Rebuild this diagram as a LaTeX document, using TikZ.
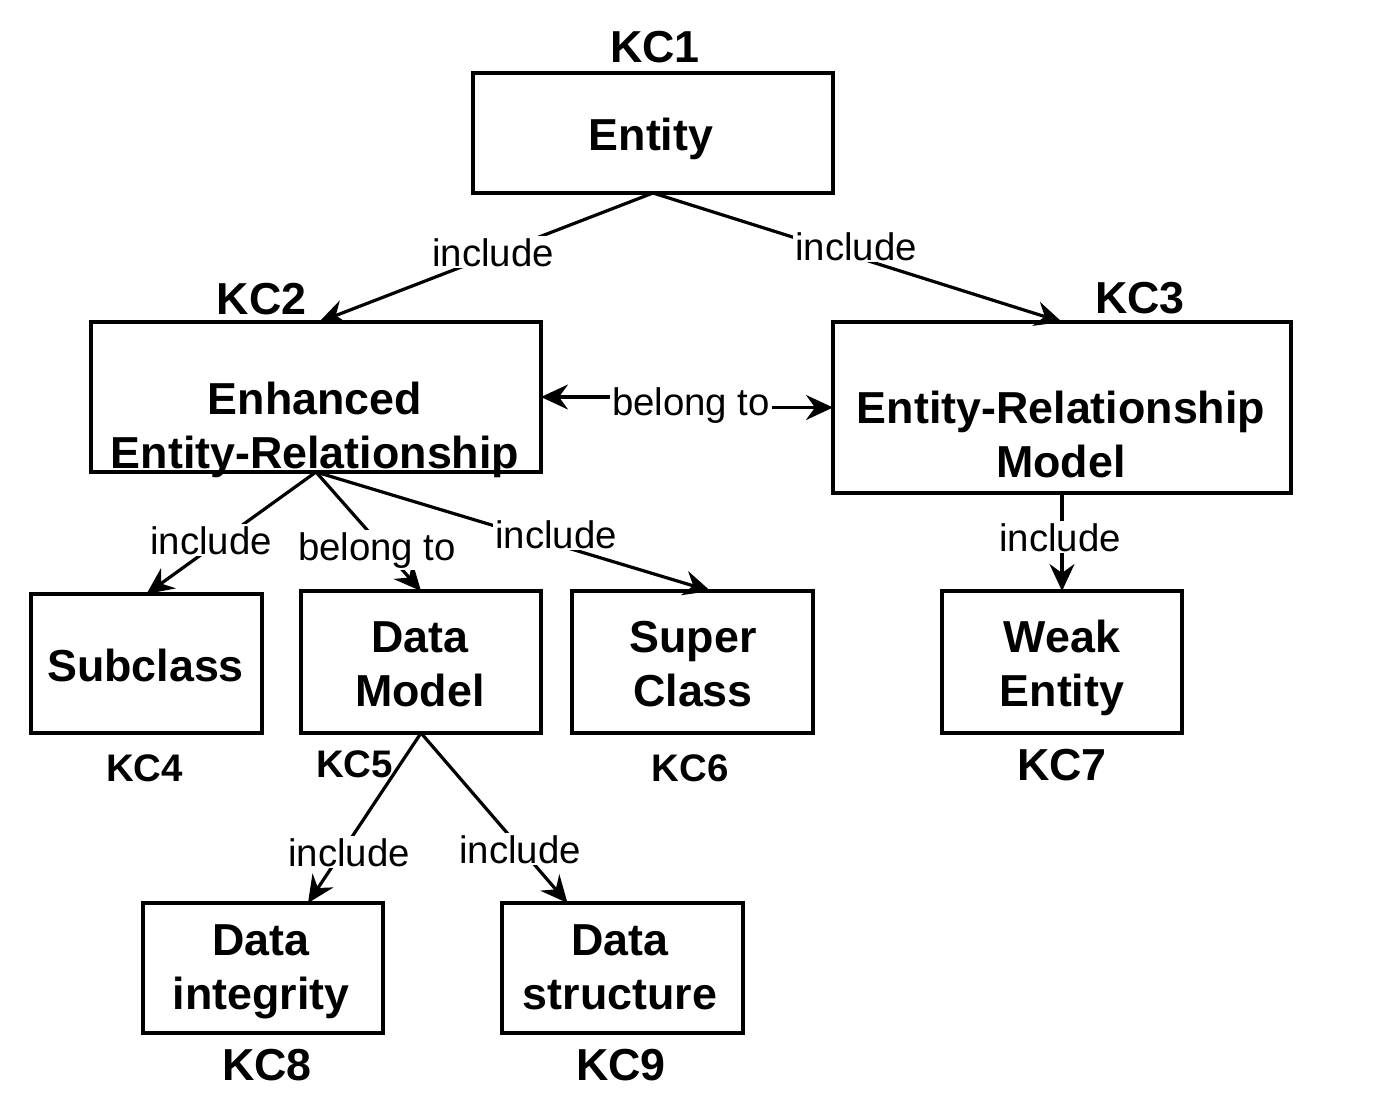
\documentclass[tikz,border=0pt]{standalone}
\usepackage{fontspec}
\setmainfont{Liberation Sans}
\usetikzlibrary{arrows.meta,calc}
\tikzset{
  box/.style={draw, line width=3.2pt, inner sep=0pt, outer sep=0pt},
  btext/.style={font=\fontsize{44.8}{53.8}\selectfont\bfseries, align=center, inner sep=0pt, anchor=base},
  kcb/.style={font=\fontsize{44.8}{53.8}\selectfont\bfseries, inner sep=0pt, anchor=base},
  kcs/.style={font=\fontsize{38.4}{46}\selectfont\bfseries, inner sep=0pt, anchor=base},
  lbl/.style={font=\fontsize{38.4}{46}\selectfont, fill=white, inner sep=2pt, anchor=base},
  tip/.tip={Stealth[length=27pt,width=25pt,inset=9pt]},
  conn/.style={line width=3.2pt, -tip},
  biconn/.style={line width=3.2pt, tip-tip},
}
\begin{document}
\begin{tikzpicture}[x=1pt,y=-1pt]
\useasboundingbox[fill=white] (0,0) rectangle (1380,1110);
% boxes
\node[box, minimum width=360pt, minimum height=120pt] (kc1) at (653,133) {};
\node[box, minimum width=450pt, minimum height=150pt] (kc2) at (316,397) {};
\node[box, minimum width=458pt, minimum height=171pt] (kc3) at (1062,407.5) {};
\node[box, minimum width=231pt, minimum height=139pt] (kc4) at (146.5,663.5) {};
\node[box, minimum width=240pt, minimum height=142pt] (kc5) at (421,662) {};
\node[box, minimum width=241pt, minimum height=142pt] (kc6) at (692.5,662) {};
\node[box, minimum width=240pt, minimum height=142pt] (kc7) at (1062,662) {};
\node[box, minimum width=240pt, minimum height=130pt] (kc8) at (263,968) {};
\node[box, minimum width=241pt, minimum height=130pt] (kc9) at (622.5,968) {};
% edge label positions
\path
  (493,266) coordinate (pl1)
  (856,260) coordinate (pl2)
  (691,415) coordinate (pl3)
  (211,554) coordinate (pl4)
  (377,560) coordinate (pl5)
  (556,548) coordinate (pl6)
  (1060,551) coordinate (pl7)
  (349,866) coordinate (pl8)
  (520,863) coordinate (pl9);
% connectors
\draw[conn] (kc1.south) -- ($(kc2.north)+(3,0)$);
\draw[conn] (kc1.south) -- (kc3.north);
\draw[biconn] (kc2.east) -- (kc2.east -| pl3) |- (kc3.west);
\draw[conn] (kc2.south) -- (kc4.north);
\draw[conn] (kc2.south) -- (kc5.north);
\draw[conn] (kc2.south) -- ($(kc6.north)+(18,0)$);
\draw[conn] (kc3.south) -- (kc7.north);
\draw[conn] (kc5.south) -- ($(kc8.north)+(45,0)$);
\draw[conn] (kc5.south) -- ($(kc9.north)+(-55,0)$);
% labels
\node[lbl] (l1) at (pl1) {include};
\node[lbl] (l2) at (pl2) {include};
\node[lbl] (l3) at (pl3) {belong to};
\node[lbl] (l4) at (pl4) {include};
\node[lbl] (l5) at (pl5) {belong to};
\node[lbl] (l6) at (pl6) {include};
\node[lbl] (l7) at (pl7) {include};
\node[lbl] (l8) at (pl8) {include};
\node[lbl] (l9) at (pl9) {include};
% box texts (base = baseline of last line)
\node[btext] (t1) at (651,151) {Entity};
\node[btext] (t2) at (315,468) {Enhanced\\Entity-Relationship};
\node[btext] (t3) at (1061,477) {Entity-Relationship\\Model};
\node[btext] (t4) at (145.5,681) {Subclass};
\node[btext] (t5) at (420,706) {Data\\Model};
\node[btext] (t6) at (693,706) {Super\\Class};
\node[btext] (t7) at (1062,706) {Weak\\Entity};
\node[btext] (t8) at (261,1009) {Data\\integrity};
\node[btext] (t9) at (620,1009) {Data\\structure};
% KC labels
\node[kcb] (k1) at (655,63) {KC1};
\node[kcb] (k2) at (261.5,314) {KC2};
\node[kcb] (k3) at (1140,313) {KC3};
\node[kcs] (k4) at (144.5,781) {KC4};
\node[kcs] (k5) at (354.5,777) {KC5};
\node[kcs] (k6) at (690,781) {KC6};
\node[kcb] (k7) at (1062,780) {KC7};
\node[kcb] (k8) at (267,1080) {KC8};
\node[kcb] (k9) at (621,1080) {KC9};
\end{tikzpicture}
\end{document}
